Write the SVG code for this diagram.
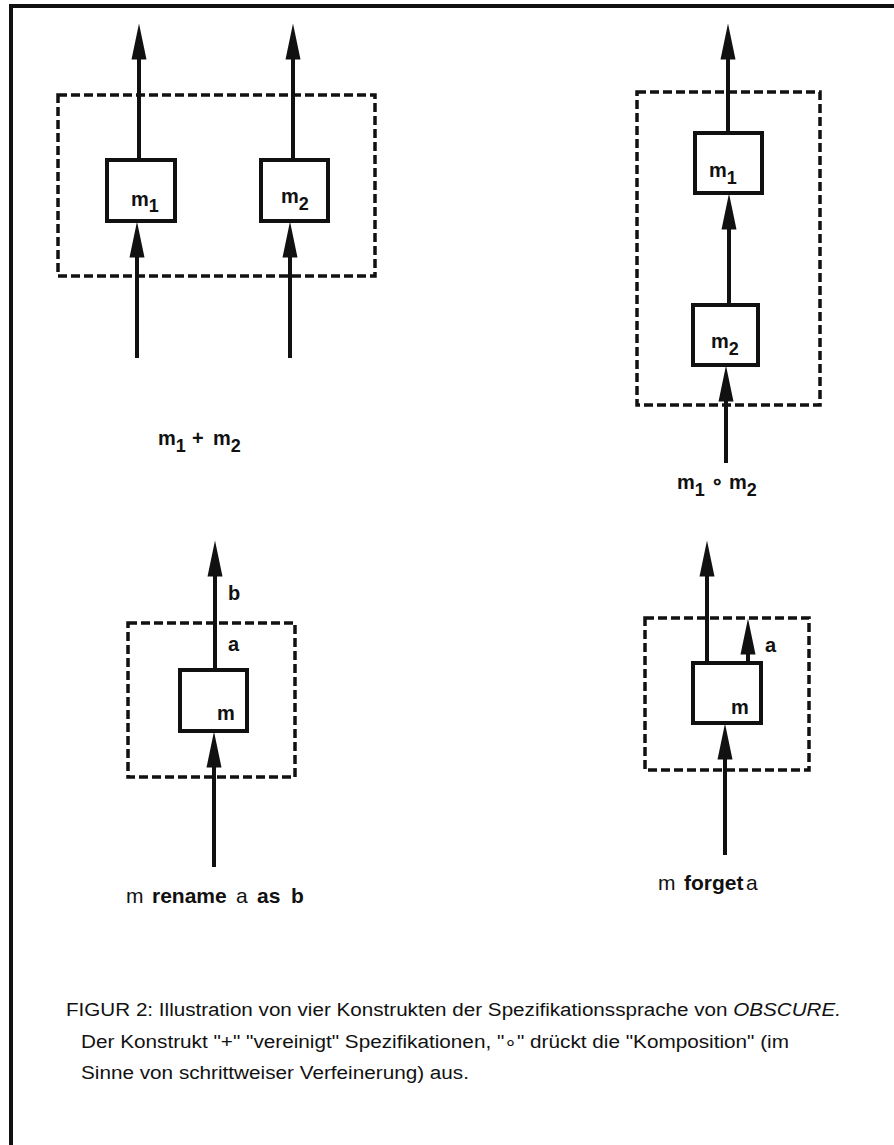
<svg xmlns="http://www.w3.org/2000/svg" width="894" height="1145" viewBox="0 0 894 1145">
<style>
.frame{fill:none;stroke:#111;stroke-width:4}
.dash{fill:none;stroke:#111;stroke-width:3.5;stroke-dasharray:9 4}
.box{fill:#fff;stroke:#111;stroke-width:4}
.conn{fill:none;stroke:#111;stroke-width:4}
.lbl{font-family:"Liberation Sans",Arial,sans-serif;font-weight:bold;font-size:20px;fill:#111}
.big{font-size:21px}
.sub{font-size:18px}
.reg{font-weight:normal}
.cap{font-family:"Liberation Sans",Arial,sans-serif;font-size:18px;fill:#111}
</style>
<defs>
<marker id="ah" markerUnits="userSpaceOnUse" markerWidth="38" markerHeight="16" viewBox="0 0 38 16" refX="0.5" refY="8" orient="auto">
<path d="M0,0.5 L36,8 L0,15.5 z" fill="#111"/>
</marker>
</defs>
<rect width="894" height="1145" fill="#fff"/>
<path class="frame" d="M11,1145 V6 H894"/>

<g id="containers">
<rect id="plus-frame" class="dash" x="58" y="95" width="317" height="181"/>
<rect id="comp-frame" class="dash" x="637" y="92" width="183" height="313"/>
<rect id="rename-frame" class="dash" x="128" y="623" width="167" height="154"/>
<rect id="forget-frame" class="dash" x="645" y="618" width="164" height="152"/>
</g>

<g id="connectors">
<line class="conn" x1="139" y1="160" x2="139" y2="59" marker-end="url(#ah)"/>
<line class="conn" x1="137" y1="358" x2="137" y2="257" marker-end="url(#ah)"/>
<line class="conn" x1="293" y1="160" x2="293" y2="59" marker-end="url(#ah)"/>
<line class="conn" x1="290" y1="358" x2="290" y2="257" marker-end="url(#ah)"/>
<line class="conn" x1="728" y1="133" x2="728" y2="59" marker-end="url(#ah)"/>
<line class="conn" x1="729" y1="305" x2="729" y2="229" marker-end="url(#ah)"/>
<line class="conn" x1="726" y1="463" x2="726" y2="401" marker-end="url(#ah)"/>
<line class="conn" x1="215" y1="670" x2="215" y2="576" marker-end="url(#ah)"/>
<line class="conn" x1="214" y1="867" x2="214" y2="767" marker-end="url(#ah)"/>
<line class="conn" x1="707" y1="663" x2="707" y2="576" marker-end="url(#ah)"/>
<line class="conn" x1="748" y1="663" x2="748" y2="654" marker-end="url(#ah)"/>
<line class="conn" x1="725" y1="855" x2="725" y2="759" marker-end="url(#ah)"/>
</g>

<g id="plus-m1">
<rect class="box" x="107" y="160" width="68" height="61"/>
<text class="lbl" x="131" y="206">m<tspan class="sub" dy="6">1</tspan></text>
</g>
<g id="plus-m2">
<rect class="box" x="261" y="160" width="67" height="61"/>
<text class="lbl" x="281" y="203">m<tspan class="sub" dy="7">2</tspan></text>
</g>
<g id="comp-m1">
<rect class="box" x="695" y="133" width="67" height="60"/>
<text class="lbl" x="709" y="177">m<tspan class="sub" dy="7">1</tspan></text>
</g>
<g id="comp-m2">
<rect class="box" x="693" y="305" width="65" height="60"/>
<text class="lbl" x="711" y="348">m<tspan class="sub" dy="7">2</tspan></text>
</g>
<g id="rename-m">
<rect class="box" x="180" y="670" width="67" height="61"/>
<text class="lbl" x="217" y="720">m</text>
</g>
<g id="forget-m">
<rect class="box" x="693" y="663" width="68" height="60"/>
<text class="lbl" x="731" y="714">m</text>
</g>

<g id="labels">
<text class="lbl" x="158" y="445">m<tspan class="sub" dy="7">1</tspan><tspan dy="-7" x="192">+</tspan><tspan x="213">m</tspan><tspan class="sub" dy="7">2</tspan></text>
<text class="lbl" x="677" y="489">m<tspan class="sub" dy="7">1</tspan><tspan dy="-7" x="711">∘</tspan><tspan x="729">m</tspan><tspan class="sub" dy="7">2</tspan></text>
<text class="lbl" x="228" y="600" font-size="17">b</text>
<text class="lbl" x="228" y="651" font-size="17">a</text>
<text class="lbl" x="765" y="652" font-size="17">a</text>
<text class="lbl big" y="903"><tspan class="reg" x="126">m</tspan><tspan x="152">rename</tspan><tspan class="reg" x="236">a</tspan><tspan x="257">as</tspan><tspan x="291">b</tspan></text>
<text class="lbl big" y="890"><tspan class="reg" x="658">m</tspan><tspan x="684">forget</tspan><tspan class="reg" x="746">a</tspan></text>
</g>

<g id="caption">
<text class="cap" x="66" y="1016" textLength="775" lengthAdjust="spacingAndGlyphs">FIGUR 2: Illustration von vier Konstrukten der Spezifikationssprache von <tspan font-style="italic">OBSCURE.</tspan></text>
<text class="cap" x="81" y="1048" textLength="708" lengthAdjust="spacingAndGlyphs">Der Konstrukt "+" "vereinigt" Spezifikationen, "∘" drückt die "Komposition" (im</text>
<text class="cap" x="81" y="1079" textLength="388" lengthAdjust="spacingAndGlyphs">Sinne von schrittweiser Verfeinerung) aus.</text>
</g>
</svg>
